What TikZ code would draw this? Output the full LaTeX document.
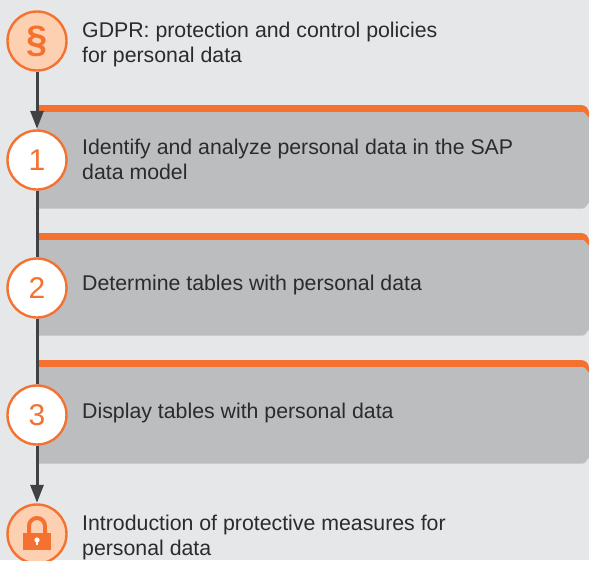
\documentclass[tikz,border=0pt]{standalone}
\usepackage{fontspec}
\setmainfont{Liberation Sans}
\usetikzlibrary{arrows.meta}
\definecolor{bgc}{HTML}{E6E7E9}
\definecolor{orng}{HTML}{F47130}
\definecolor{peach}{HTML}{FDD0B2}
\definecolor{band}{HTML}{BCBDBF}
\definecolor{dark}{HTML}{404144}
\definecolor{txt}{HTML}{2B2B2D}
\tikzset{
  x=1pt,y=-1pt,
  stepcirc/.style={circle,draw=orng,line width=2.4pt,fill=white,minimum size=59pt,inner sep=0pt,text=orng,font=\fontsize{30}{30}\selectfont},
  endcirc/.style={stepcirc,fill=peach},
  lab/.style={anchor=west,align=left,text=txt,inner sep=0pt,font=\fontsize{21.3}{25}\selectfont},
  flow/.style={draw=dark,line width=3pt},
  flowarrow/.style={flow,-{Triangle[length=18pt,width=13pt]},shorten >=0.5pt}
}
\newcommand{\panel}[2]{%
  \fill[orng,rounded corners=8pt] (37,#1) -- (37,#1+20) -- (589,#1+20) -- (589,#1) -- cycle;
  \fill[band] (37,#1+7) -- (37,#2) -- (583,#2) to[out=0,in=90] (589,#2-5) -- (589,#1+12) to[out=-90,in=0] (583,#1+7) -- cycle;
  \fill[orng] (37,#1) rectangle (560,#1+7);
}
\begin{document}
\begin{tikzpicture}
\useasboundingbox (0,0) rectangle (589,560);
\fill[bgc] (0,0) rectangle (589,560);
\clip (0,0) rectangle (589,560);
\panel{105}{208.5}
\panel{233}{335.5}
\panel{360}{463.5}
\node[endcirc] (law) at (37,41) {};
\node[font=\fontsize{38}{38}\selectfont\bfseries,text=orng] (par) at (37,41) {§};
\node[stepcirc] (s1) at (37,160) {1};
\node[stepcirc] (s2) at (37,288) {2};
\node[stepcirc] (s3) at (37,415) {3};
\node[endcirc] (lock) at (37,534) {};
\draw[flowarrow] (law) -- (s1);
\draw[flow] (s1) -- (s2);
\draw[flow] (s2) -- (s3);
\draw[flowarrow] (s3) -- (lock);
% padlock
\draw[orng,line width=4pt] (29,534) -- (29,526) arc[start angle=180,end angle=360,radius=8] -- (45,534);
\fill[orng] (23,533) rectangle (51,550);
\fill[white] (37,540) circle (2.6);
\fill[white] (36,540) rectangle (38,545);
\node[lab] (t0) at (82,44.5) {GDPR: protection and control policies\\for personal data};
\node[lab] (t1) at (82,159) {Identify and analyze personal data in the SAP\\data model};
\node[lab] (t2) at (82,285) {Determine tables with personal data};
\node[lab] (t3) at (82,413) {Display tables with personal data};
\node[lab] (t4) at (82,537) {Introduction of protective measures for\\personal data};
\end{tikzpicture}
\end{document}
